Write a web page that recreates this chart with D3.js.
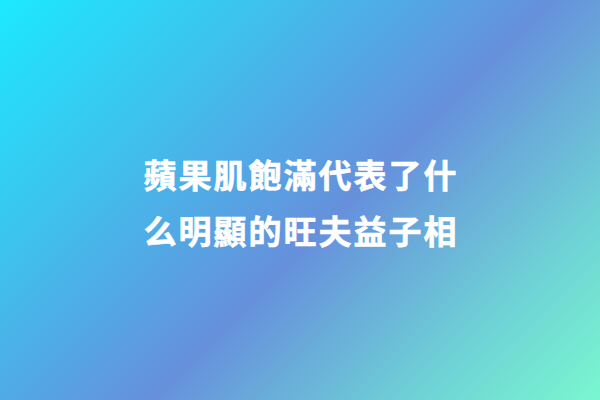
<!DOCTYPE html>
<html>
<head>
<meta charset="utf-8">
<script src="https://cdn.jsdelivr.net/npm/d3@7"></script>
<style>
  html, body { margin: 0; padding: 0; background: #fff; }
  svg { display: block; }
</style>
</head>
<body>
<script>
// Text content
const titleLines = ["蘋果肌飽滿代表了什", "么明顯的旺夫益子相"];
const lineIndex = [0, 1];

// Gradient stops (offset, colour)
const stopOffsets = [0, 0.25, 0.55, 0.8, 1];
const stopColors  = ["#1ce9fe", "#3cc4ee", "#6690dc", "#6ecfd6", "#7af7cf"];

const W = 600, H = 400;

const svg = d3.select("body").append("svg")
  .attr("width", W).attr("height", H)
  .attr("viewBox", `0 0 ${W} ${H}`);

const defs = svg.append("defs");
const grad = defs.append("linearGradient")
  .attr("id", "bg")
  .attr("gradientUnits", "userSpaceOnUse")
  .attr("x1", 0).attr("y1", 0)
  .attr("x2", 500).attr("y2", 500);

grad.selectAll("stop")
  .data(stopOffsets)
  .join("stop")
  .attr("offset", d => d)
  .attr("stop-color", (d, i) => stopColors[i]);

svg.append("rect")
  .attr("width", W).attr("height", H)
  .attr("fill", "url(#bg)");

const y = d3.scalePoint()
  .domain(lineIndex)
  .range([174, 229.5]);

svg.selectAll("text.title")
  .data(titleLines)
  .join("text")
  .attr("class", "title")
  .attr("x", W / 2 + 1)
  .attr("y", (d, i) => y(i))
  .attr("text-anchor", "middle")
  .attr("dominant-baseline", "central")
  .attr("fill", "#ffffff")
  .attr("stroke", "#ffffff")
  .attr("stroke-width", 0.6)
  .style("font-family", "'Noto Sans CJK TC', 'Noto Sans CJK SC', sans-serif")
  .style("font-weight", "700")
  .style("font-size", "33px")
  .style("letter-spacing", "2px")
  .text(d => d);
</script>
</body>
</html>
